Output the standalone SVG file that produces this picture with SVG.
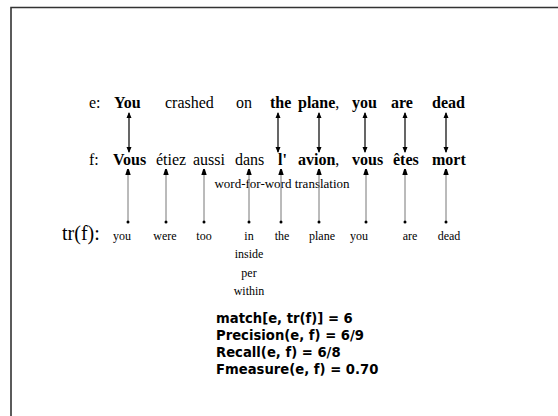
<svg xmlns="http://www.w3.org/2000/svg" width="558" height="416" viewBox="0 0 558 416">
<defs>
<marker id="ah" viewBox="0 0 6 6" refX="5" refY="3" markerWidth="6" markerHeight="6" orient="auto-start-reverse" markerUnits="userSpaceOnUse">
<path d="M0,0.5 L6,3 L0,5.5 Z" fill="#000"/>
</marker>
<marker id="tick" viewBox="0 0 6 6" refX="5" refY="3" markerWidth="6" markerHeight="6" orient="auto-start-reverse" markerUnits="userSpaceOnUse">
<path d="M0,0.3 L6,2.2 L6,3.8 L0,5.7 Z" fill="#000"/>
</marker>
<marker id="dot" viewBox="0 0 4 4" refX="2" refY="2" markerWidth="4" markerHeight="4" markerUnits="userSpaceOnUse">
<circle cx="2" cy="2" r="1.5" fill="#000"/>
</marker>
</defs>
<style>
.t{font-family:"Liberation Serif","Times New Roman",serif;fill:#000}
.lab{font-size:16px}
.big{font-size:20px}
.w{font-size:16px}
.b{font-weight:bold}
.sm{font-size:12px}
.mid{font-size:13px}
.m{font-family:"DejaVu Sans",sans-serif;font-weight:bold;font-size:13.2px;fill:#000}
.align{stroke:#000;stroke-width:1.2;fill:none;marker-start:url(#ah);marker-end:url(#ah)}
.tr{stroke:#777;stroke-width:1;fill:none;marker-start:url(#tick);marker-end:url(#dot)}
</style>
<rect width="558" height="416" fill="#fff"/>
<path d="M11,416 V7.5 H558" fill="none" stroke="#333" stroke-width="1.6"/>

<g id="row-e">
<text class="t lab" x="89" y="108">e:</text>
<text class="t w b" x="114" y="108">You</text>
<text class="t w" x="165" y="108">crashed</text>
<text class="t w" x="236" y="108">on</text>
<text class="t w b" x="270" y="108">the</text>
<text class="t w" x="298" y="108"><tspan class="b">plane</tspan>,</text>
<text class="t w b" x="352" y="108">you</text>
<text class="t w b" x="391" y="108">are</text>
<text class="t w b" x="432" y="108">dead</text>
</g>

<g id="row-f">
<text class="t lab" x="89" y="165">f:</text>
<text class="t w b" x="113" y="165">Vous</text>
<text class="t w" x="156" y="165">étiez</text>
<text class="t w" x="193" y="165">aussi</text>
<text class="t w" x="235" y="165">dans</text>
<text class="t w b" x="278" y="165">l'</text>
<text class="t w b" x="298" y="165">avion<tspan font-weight="normal">,</tspan></text>
<text class="t w b" x="352" y="165">vous</text>
<text class="t w b" x="393" y="165">êtes</text>
<text class="t w b" x="432" y="165">mort</text>
</g>

<g id="label-wfw">
<text class="t mid" x="282" y="188" text-anchor="middle">word-for-word translation</text>
</g>

<g id="row-tr">
<text class="t big" x="62" y="240">tr(f):</text>
<g text-anchor="middle">
<text class="t sm" x="122" y="240">you</text>
<text class="t sm" x="165" y="240">were</text>
<text class="t sm" x="204" y="240">too</text>
<text class="t sm" x="249" y="240">in</text>
<text class="t sm" x="249" y="258">inside</text>
<text class="t sm" x="249" y="277">per</text>
<text class="t sm" x="249" y="295">within</text>
<text class="t sm" x="282" y="240">the</text>
<text class="t sm" x="322" y="240">plane</text>
<text class="t sm" x="359" y="240">you</text>
<text class="t sm" x="410" y="240">are</text>
<text class="t sm" x="449" y="240">dead</text>
</g>
</g>

<g id="connectors">
<line class="align" x1="129" y1="113" x2="129" y2="152"/>
<line class="align" x1="278" y1="113" x2="278" y2="152"/>
<line class="align" x1="319" y1="113" x2="319" y2="152"/>
<line class="align" x1="365" y1="113" x2="365" y2="152"/>
<line class="align" x1="405" y1="113" x2="405" y2="152"/>
<line class="align" x1="446" y1="113" x2="446" y2="152"/>

<line class="tr" x1="128" y1="170" x2="128" y2="222"/>
<line class="tr" x1="166" y1="170" x2="166" y2="222"/>
<line class="tr" x1="204" y1="170" x2="204" y2="222"/>
<line class="tr" x1="249" y1="170" x2="249" y2="222"/>
<line class="tr" x1="281" y1="170" x2="281" y2="222"/>
<line class="tr" x1="319" y1="170" x2="319" y2="222"/>
<line class="tr" x1="366" y1="170" x2="366" y2="222"/>
<line class="tr" x1="405" y1="170" x2="405" y2="222"/>
<line class="tr" x1="446" y1="170" x2="446" y2="222"/>
</g>

<g id="metrics">
<text class="m" x="216" y="323">match[e, tr(f)] = 6</text>
<text class="m" x="216" y="340">Precision(e, f) = 6/9</text>
<text class="m" x="216" y="357">Recall(e, f) = 6/8</text>
<text class="m" x="216" y="374">Fmeasure(e, f) = 0.70</text>
</g>
</svg>
